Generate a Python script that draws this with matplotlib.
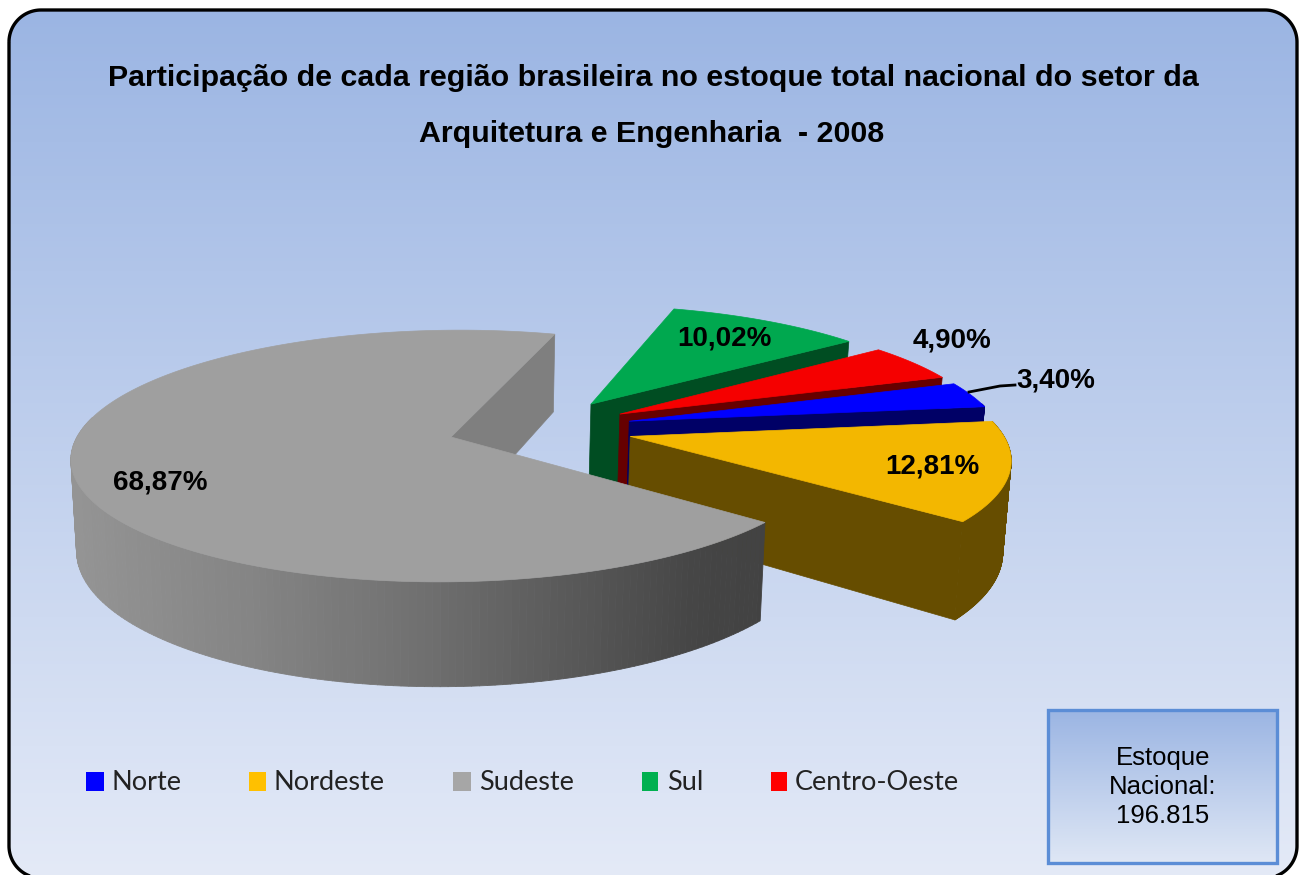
import numpy as np
import matplotlib
matplotlib.use('Agg')
import matplotlib.pyplot as plt
from matplotlib.collections import PolyCollection
from matplotlib.colors import LinearSegmentedColormap
from matplotlib.patches import Polygon, Rectangle

# dados
regioes = ['Norte', 'Nordeste', 'Sudeste', 'Sul', 'Centro-Oeste']
valores = [3.40, 12.81, 68.87, 10.02, 4.90]
titulo = ['Participação de cada região brasileira no estoque total nacional do setor da',
          'Arquitetura e Engenharia  - 2008']
caixa_texto = 'Estoque\nNacional:\n196.815'

# cores
cor_topo = ['#0000ff', '#f3b700', '#9f9f9f', '#00a84f', '#f50000']
cor_lado = ['#000066', '#664d00', '#7f7f7f', '#004d22', '#660000']
cor_legenda = ['#0000ff', '#ffc000', '#a6a6a6', '#00b050', '#ff0000']

# posicao dos rotulos e da legenda (pixels)
rotulo_xy = [(1056, 380), (932, 466), (160, 482), (724, 339), (952, 340)]
legenda_x = [86, 249, 453, 642, 771]
legenda_larg = [18, 17, 18, 16, 16]
legenda_txt_x = [112, 274, 479, 667, 795]

# camera da pizza
x0, y0 = 451, 437
R, B, K, D, H = 374, 123, 0.151, 70, 89
angulo_ini = 19.4
explode = 0.25


def proj(X, Y, z=0.0):
    # plano da pizza -> pixels, com perspectiva
    X = np.asarray(X, dtype=float)
    Y = np.asarray(Y, dtype=float)
    s = 1 / (1 + K * Y)
    return x0 + R * X * s * (1 - 0.015 * z) - D * (s - 1), y0 - B * Y * s + H * s * z


def canto(cx, cy, r, a1, a2):
    t = np.radians(np.linspace(a1, a2, 30))
    return np.column_stack([cx + r * np.cos(t), cy + r * np.sin(t)])


fig = plt.figure(figsize=(12.99, 8.75), dpi=100, facecolor='white')
ax = fig.add_axes([0, 0, 1, 1])
ax.axis('off')

# fundo com gradiente, moldura de cantos redondos
fundo_cmap = LinearSegmentedColormap.from_list('fundo', ['#9bb5e3', '#e4eaf7'])
r = 32
contorno = np.vstack([canto(9 + r, 10 + r, r, 180, 270), canto(1297 - r, 10 + r, r, 270, 360),
                      canto(1297 - r, 878 - r, r, 0, 90), canto(9 + r, 878 - r, r, 90, 180)])
moldura = Polygon(contorno, closed=True, fc='none', ec='black', lw=2.4, zorder=2)
ax.add_patch(moldura)
grad = np.linspace(0, 1, 256).reshape(-1, 1)
im = ax.imshow(grad, cmap=fundo_cmap, extent=(9, 1297, 878, 10), aspect='auto', zorder=1)
im.set_clip_path(moldura)
ax.set_xlim(0, 1299)
ax.set_ylim(875, 0)

# calcula os angulos das fatias (sentido horario)
graus = np.array(valores) / sum(valores) * 360
fim = angulo_ini - np.cumsum(graus)
ini = fim + graus

# centro real: a fatia do Sudeste fica na origem da camera
meio_sudeste = np.radians((ini[2] + fim[2]) / 2)
cx = -explode * np.cos(meio_sudeste)
cy = -explode * np.sin(meio_sudeste)

z = 3
# de tras para frente
for i in [3, 4, 0, 1, 2]:
    meio = np.radians((ini[i] + fim[i]) / 2)
    ax_c = cx + explode * np.cos(meio)
    ay_c = cy + explode * np.sin(meio)
    t = np.radians(np.linspace(ini[i], fim[i], 240))
    bx = ax_c + np.cos(t)
    by = ay_c + np.sin(t)

    # face radial visivel
    px = [ax_c, bx[-1], bx[-1], ax_c]
    py = [ay_c, by[-1], by[-1], ay_c]
    sx, sy = proj(px, py, np.array([0, 0, 1, 1]))
    ax.fill(sx, sy, color=cor_lado[i], lw=0.5, zorder=z)
    z += 1

    # lado curvo
    quads = []
    cores = []
    for j in range(len(t) - 1):
        if np.sin(t[j]) > 0.15:
            continue
        qx = [bx[j], bx[j + 1], bx[j + 1], bx[j]]
        qy = [by[j], by[j + 1], by[j + 1], by[j]]
        sx, sy = proj(qx, qy, np.array([0, 0, 1, 1]))
        quads.append(np.column_stack([sx, sy]))
        if i == 2:
            # gradiente do cinza
            g = np.interp(sx.mean(), [78, 250, 420, 600, 700, 763], [0.58, 0.52, 0.44, 0.33, 0.27, 0.26])
            cores.append((g, g, g))
        else:
            cores.append(cor_lado[i])
    if quads:
        ax.add_collection(PolyCollection(quads, facecolors=cores, edgecolors=cores, linewidths=0.6, zorder=z))
    z += 1

    # topo
    sx, sy = proj(np.r_[ax_c, bx], np.r_[ay_c, by])
    ax.fill(sx, sy, color=cor_topo[i], lw=0.5, zorder=z)
    z += 1

# rotulos
for i in range(5):
    txt = f'{valores[i]:.2f}'.replace('.', ',') + '%'
    ax.text(rotulo_xy[i][0], rotulo_xy[i][1], txt, family='Liberation Sans', weight='bold',
            size=20, color='black', ha='center', va='center', zorder=50)
ax.plot([969, 1000, 1015], [392, 386, 385], color='black', lw=2, zorder=49)

# titulo
ax.text(653, 78, titulo[0], family='Liberation Sans', weight='bold', size=21.9, ha='center', va='center', zorder=50)
ax.text(652, 134, titulo[1], family='Liberation Sans', weight='bold', size=21.9, ha='center', va='center', zorder=50)

# legenda
for i in range(5):
    ax.add_patch(Rectangle((legenda_x[i], 772), legenda_larg[i], 19, fc=cor_legenda[i], ec='none', zorder=50))
    ax.text(legenda_txt_x[i], 782, regioes[i], family='Lato', size=19.5, color='#222222', ha='left', va='center', zorder=50)

# caixa do estoque nacional
caixa = Rectangle((1048, 710), 229, 153, fc='none', ec='#5b8dd6', lw=2.4, zorder=52)
ax.add_patch(caixa)
im2 = ax.imshow(grad, cmap=LinearSegmentedColormap.from_list('cx', ['#9bb5e3', '#dfe7f5']),
                extent=(1048, 1277, 863, 710), aspect='auto', zorder=51)
ax.set_xlim(0, 1299)
ax.set_ylim(875, 0)
ax.text(1163, 787, caixa_texto, family='Liberation Sans', size=18.5, ha='center', va='center',
        linespacing=1.27, color='black', zorder=53)

fig.savefig('out.png', dpi=100)
